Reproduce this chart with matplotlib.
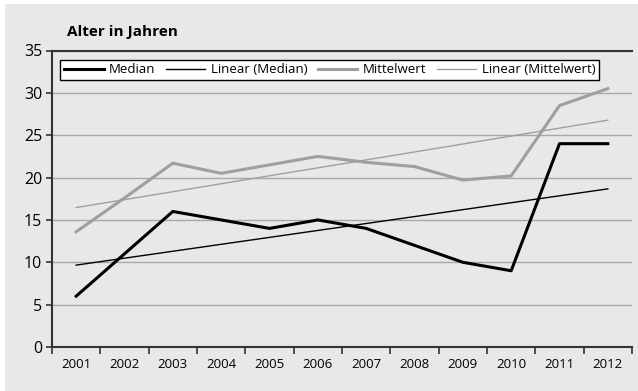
import numpy as np
import matplotlib
matplotlib.use("Agg")
import matplotlib.pyplot as plt
from matplotlib.patches import Rectangle

plt.rcParams['font.family'] = ['Open Sans', 'DejaVu Sans']

# Daten
years = ['2001', '2002', '2003', '2004', '2005', '2006',
         '2007', '2008', '2009', '2010', '2011', '2012']
median = [6, 11, 16, 15, 14, 15, 14, 12, 10, 9, 24, 24]
mittelwert = [13.6, 17.6, 21.7, 20.5, 21.5, 22.5, 21.8, 21.3, 19.7, 20.2, 28.5, 30.5]

x = np.arange(len(years))

# lineare Trendlinien (wie Excel)
m_fit = np.polyval(np.polyfit(x, median, 1), x)
mw_fit = np.polyval(np.polyfit(x, mittelwert, 1), x)

fig = plt.figure(figsize=(6.38, 3.91), dpi=100)
fig.patch.set_facecolor('white')
# grauer Hintergrund mit weissem Rand oben/links
fig.patches.append(Rectangle((5 / 638, 0), 1, 1 - 4 / 391, transform=fig.transFigure,
                             facecolor='#e8e8e8', edgecolor='none', zorder=-10))

ax = fig.add_axes([52 / 638, 44 / 391, 580 / 638, 296.5 / 391])
ax.set_facecolor('none')

ax.plot(x, median, color='black', lw=2.2, label='Median', zorder=4)
ax.plot(x, m_fit, color='black', lw=1.0, label='Linear (Median)', zorder=3)
ax.plot(x, mittelwert, color='#9f9f9f', lw=2.2, label='Mittelwert', zorder=4)
ax.plot(x, mw_fit, color='#9f9f9f', lw=1.0, label='Linear (Mittelwert)', zorder=3)

ax.set_xlim(-0.5, len(years) - 0.5)
ax.set_ylim(0, 35)
ax.set_yticks(range(0, 36, 5))

# Ticks an den Kategoriegrenzen, Beschriftung in der Mitte
ax.set_xticks(np.arange(-0.5, len(years), 1.0))
ax.set_xticklabels([])
ax.set_xticks(x, minor=True)
ax.set_xticklabels(years, minor=True)
ax.tick_params(axis='x', which='major', length=5, width=1.2, color='#333333', direction='out')
ax.tick_params(axis='x', which='minor', length=0, pad=8, labelsize=9.5)
ax.tick_params(axis='y', length=4, width=1.2, color='#333333', labelsize=11.5, pad=3)

ax.yaxis.grid(True, color='#a8a8a8', lw=1.0)
ax.set_axisbelow(True)

for s in ['left', 'bottom', 'top']:
    ax.spines[s].set_color('#333333')
    ax.spines[s].set_linewidth(1.5)
ax.spines['right'].set_visible(False)

fig.text(67 / 638, 1 - 32 / 391, 'Alter in Jahren', fontsize=11, fontweight='bold',
         va='center', ha='left')

leg = ax.legend(loc='upper left', bbox_to_anchor=(8 / 580, 1 - 9 / 296.5), ncol=4,
                fontsize=9.5, frameon=True, fancybox=False, handlelength=3.0,
                handletextpad=0.4, columnspacing=0.8, borderpad=0.3,
                borderaxespad=0)
leg.get_frame().set_edgecolor('black')
leg.get_frame().set_linewidth(1.0)
leg.get_frame().set_facecolor('white')
leg.get_frame().set_alpha(1)

fig.savefig('out.png', dpi=100, facecolor=fig.get_facecolor())
